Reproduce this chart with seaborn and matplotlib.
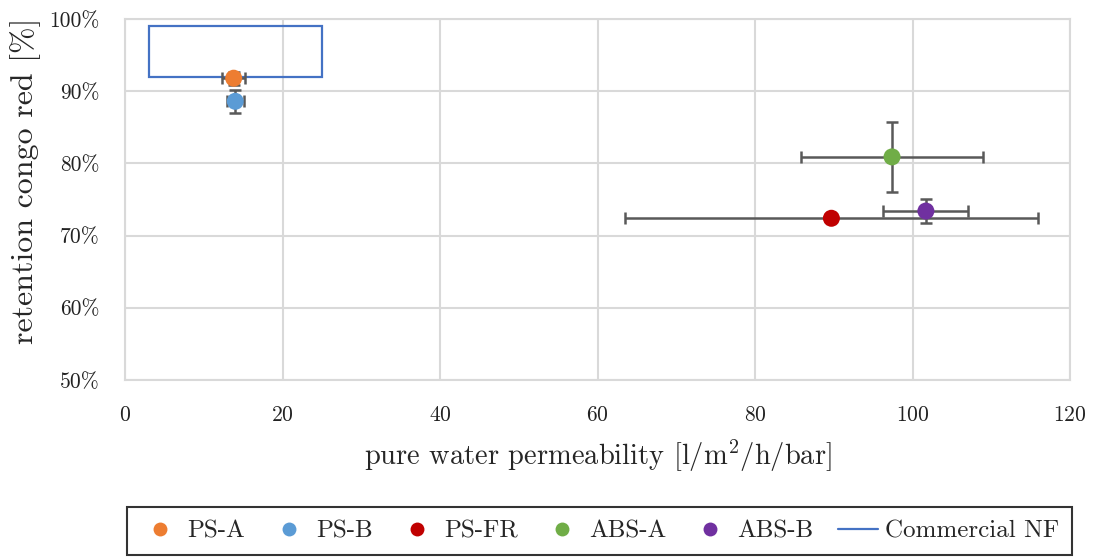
import matplotlib
matplotlib.use("Agg")
import matplotlib.pyplot as plt
import seaborn as sns
import pandas as pd
from matplotlib.patches import Rectangle
from matplotlib.lines import Line2D
from matplotlib.ticker import FuncFormatter

# data
names = ["PS-A", "PS-B", "PS-FR", "ABS-A", "ABS-B"]
permeability = [13.8, 14.0, 89.7, 97.4, 101.7]
perm_err = [1.5, 1.1, 26.2, 11.5, 5.4]
retention = [91.8, 88.6, 72.4, 80.9, 73.4]
ret_err = [0.9, 1.6, 0.0, 4.8, 1.7]
colors = ["#ED7D31", "#5B9BD5", "#C00000", "#70AD47", "#7030A0"]
nf_perm = [3, 25]
nf_ret = [92, 99]
nf_label = "Commercial NF"

sns.set_theme(style="whitegrid")
plt.rcParams["font.family"] = ["cmr10", "DejaVu Serif"]
plt.rcParams["axes.formatter.use_mathtext"] = True
plt.rcParams["mathtext.fontset"] = "cm"

df = pd.DataFrame({"name": names, "perm": permeability, "ret": retention})

fig = plt.figure(figsize=(10.96, 5.57), dpi=100)
ax = fig.add_axes([125/1096, 1 - 380/557, (1070-125)/1096, (380-19)/557])

ax.add_patch(Rectangle((nf_perm[0], nf_ret[0]), nf_perm[1]-nf_perm[0], nf_ret[1]-nf_ret[0],
                       fill=False, edgecolor="#4472C4", lw=1.6, zorder=2))

for i in range(len(names)):
    ax.errorbar(permeability[i], retention[i], xerr=perm_err[i],
                yerr=ret_err[i] if ret_err[i] > 0 else None,
                fmt="none", ecolor="#595959", elinewidth=1.8, capsize=4.5, capthick=1.8, zorder=3)

sns.scatterplot(data=df, x="perm", y="ret", hue="name", palette=colors, s=150,
                edgecolor="none", ax=ax, zorder=4, legend=False)

ax.set_xlim(0, 120)
ax.set_ylim(50, 100)
ax.set_xticks(range(0, 121, 20))
ax.set_yticks(range(50, 101, 10))
ax.yaxis.set_major_formatter(FuncFormatter(lambda v, p: f"{int(v)}%"))
ax.grid(True, color="#d9d9d9", lw=1.5)
for s in ax.spines.values():
    s.set_color("#d9d9d9")
    s.set_linewidth(1.5)
ax.tick_params(axis="both", length=0, labelsize=15.5, colors="#222222")
ax.tick_params(axis="y", pad=18)
ax.tick_params(axis="x", pad=18)
ax.set_xlabel("pure water permeability [l/m$^2$/h/bar]", fontsize=20.5, labelpad=10)
ax.set_ylabel("retention congo red [%]", fontsize=23)
ax.yaxis.set_label_coords(-0.089, 0.551)

handles = [Line2D([], [], marker="o", ls="none", color=c, markersize=10, markeredgewidth=0)
           for c in colors]
handles.append(Line2D([], [], color="#4472C4", lw=1.6))
labels = names + [nf_label]
leg = fig.legend(handles, labels, ncol=6, loc="lower center", bbox_to_anchor=(0.547, 0.004),
                 frameon=True, fancybox=False, edgecolor="black", fontsize=18,
                 handlelength=1.6, columnspacing=0.95, handletextpad=0.3, borderpad=0.5,
                 borderaxespad=0)
leg.get_frame().set_linewidth(1.5)

fig.savefig("out.png", dpi=100)
